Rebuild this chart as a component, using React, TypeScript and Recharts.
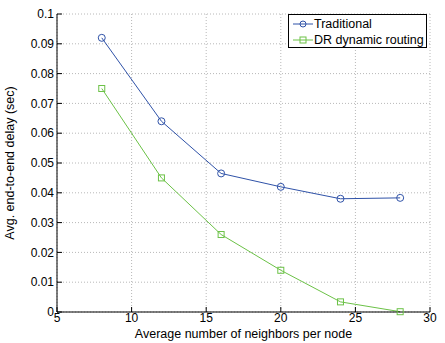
import React from 'react';
import { LineChart, Line, XAxis, YAxis, CartesianGrid, Legend, Label } from 'recharts';

const neighbors = [8, 12, 16, 20, 24, 28];
const traditional = [0.092, 0.064, 0.0465, 0.042, 0.038, 0.0383];
const drRouting = [0.075, 0.045, 0.026, 0.014, 0.0034, 0.0001];
const xTicks = [5, 10, 15, 20, 25, 30];
const yTicks = [0, 0.01, 0.02, 0.03, 0.04, 0.05, 0.06, 0.07, 0.08, 0.09, 0.1];

const BLUE = '#2f52a8';
const GREEN = '#6cc247';
const FONT = '"Liberation Sans", Arial, Helvetica, sans-serif';

const data = neighbors.map((n, i) => ({ n, trad: traditional[i], dr: drRouting[i] }));

const fmtY = (v: number) => (v === 0 ? '0' : String(+v.toFixed(2)));

const SquareDot = (props: any) => {
  const { cx, cy } = props;
  if (cx == null || cy == null) return null;
  return <rect x={cx - 3} y={cy - 3} width={6} height={6} fill="none" stroke={GREEN} strokeWidth={1} />;
};

const LegendBox = () => (
  <div
    style={{
      border: '1px solid #000',
      background: '#fff',
      width: 137,
      height: 32,
      fontFamily: FONT,
      fontSize: 12.5,
      color: '#000',
      boxSizing: 'content-box',
    }}
  >
    {[
      { name: 'Traditional', color: BLUE, marker: 'circle' },
      { name: 'DR dynamic routing', color: GREEN, marker: 'square' },
    ].map((item, i) => (
      <div key={i} style={{ display: 'flex', alignItems: 'center', height: 16, marginTop: i === 0 ? 1 : 0 }}>
        <svg width={24} height={16} style={{ marginLeft: 3 }}>
          <line x1={1} y1={8} x2={21} y2={8} stroke={item.color} strokeWidth={1} />
          {item.marker === 'circle' ? (
            <circle cx={11} cy={8} r={3} fill="none" stroke={item.color} />
          ) : (
            <rect x={8} y={5} width={6} height={6} fill="none" stroke={item.color} />
          )}
        </svg>
        <span style={{ marginLeft: -2 }}>{item.name}</span>
      </div>
    ))}
  </div>
);

export default function App() {
  return (
    <div style={{ position: 'absolute', left: 0, top: 0, width: 445, height: 343, background: '#fff' }}>
      <LineChart
        width={445}
        height={343}
        data={data}
        margin={{ top: 14, right: 15, left: 12, bottom: 0 }}
        style={{ fontFamily: FONT }}
      >
        <CartesianGrid stroke="#b8b8b8" strokeDasharray="1 2" horizontalValues={yTicks} verticalValues={xTicks} />
        <XAxis
          dataKey="n"
          type="number"
          domain={[5, 30]}
          ticks={xTicks}
          interval={0}
          height={31}
          stroke="#000"
          tickSize={-5}
          tickMargin={6}
          tick={{ fill: '#000', fontSize: 12 }}
        >
          <Label
            value="Average number of neighbors per node"
            position="insideBottom"
            offset={5}
            style={{ fill: '#000', fontSize: 12.5, textAnchor: 'middle' }}
          />
        </XAxis>
        <XAxis
          xAxisId="top"
          orientation="top"
          type="number"
          domain={[5, 30]}
          ticks={xTicks}
          interval={0}
          height={0}
          stroke="#000"
          tickSize={-5}
          tickFormatter={() => ''}
          allowDataOverflow
        />
        <YAxis
          type="number"
          domain={[0, 0.1]}
          ticks={yTicks}
          interval={0}
          width={45}
          stroke="#000"
          tickSize={-5}
          tickMargin={8}
          tickFormatter={fmtY}
          tick={{ fill: '#000', fontSize: 12 }}
        >
          <Label
            value="Avg. end-to-end delay (sec)"
            angle={-90}
            position="insideLeft"
            offset={-2}
            style={{ fill: '#000', fontSize: 12.5, textAnchor: 'middle' }}
          />
        </YAxis>
        <YAxis
          yAxisId="right"
          orientation="right"
          type="number"
          domain={[0, 0.1]}
          ticks={yTicks}
          interval={0}
          width={0}
          stroke="#000"
          tickSize={-5}
          tickFormatter={() => ''}
          allowDataOverflow
        />
        <Legend
          verticalAlign="middle"
          align="center"
          layout="horizontal"
          content={() => <LegendBox />}
          wrapperStyle={{ position: 'absolute', top: 14, left: 288, width: 139 }}
        />
        <Line
          dataKey="trad"
          name="Traditional"
          stroke={BLUE}
          strokeWidth={1}
          isAnimationActive={false}
          dot={{ r: 3.5, fill: 'none', stroke: BLUE, strokeWidth: 1 }}
          activeDot={false}
        />
        <Line
          dataKey="dr"
          name="DR dynamic routing"
          stroke={GREEN}
          strokeWidth={1}
          isAnimationActive={false}
          dot={<SquareDot />}
          activeDot={false}
        />
      </LineChart>
    </div>
  );
}
